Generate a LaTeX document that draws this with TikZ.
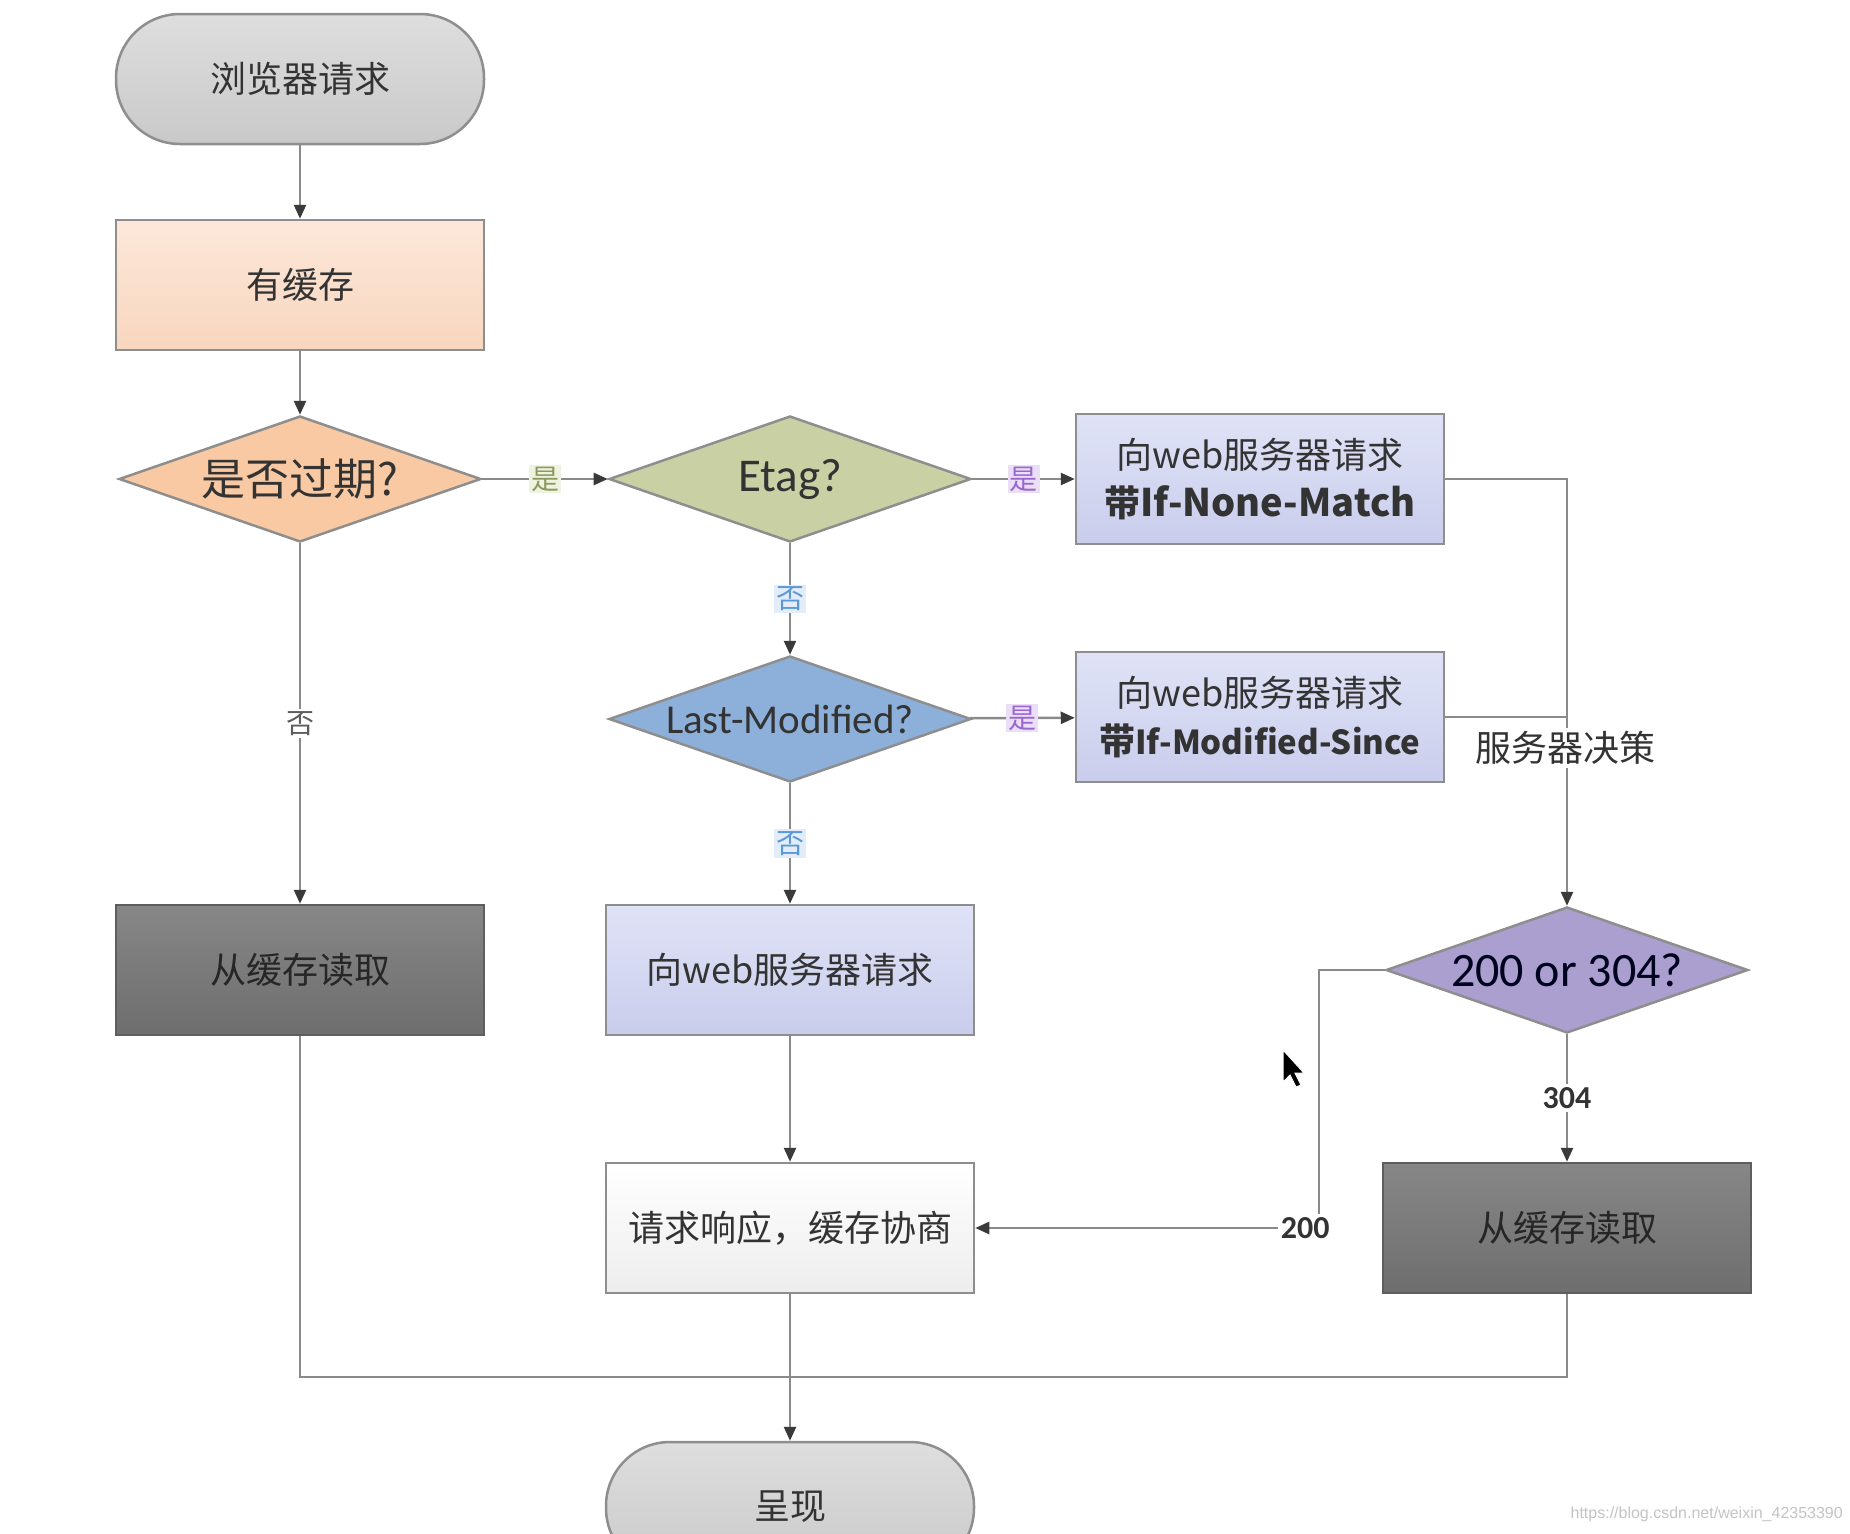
\documentclass[tikz,border=0pt]{standalone}
\usepackage{fontspec}
\setmainfont{Carlito}
\newfontfamily\cjk{Noto Sans CJK SC}
\newfontfamily\wmfont{Liberation Sans}
\usetikzlibrary{shapes.geometric,arrows.meta}
\definecolor{bordergray}{HTML}{8E8E8E}
\definecolor{linegray}{HTML}{8A8A8A}
\definecolor{arrowdark}{HTML}{3A3A3A}
\definecolor{textdark}{HTML}{333333}
\definecolor{termtop}{HTML}{DEDEDE}
\definecolor{termbot}{HTML}{C9C9C9}
\definecolor{peachtop}{HTML}{FCE8DA}
\definecolor{peachbot}{HTML}{F8D6BE}
\definecolor{orangefill}{HTML}{F8C9A2}
\definecolor{etagfill}{HTML}{C9D1A4}
\definecolor{lmfill}{HTML}{8DB0DA}
\definecolor{codefill}{HTML}{AA9FCF}
\definecolor{lavtop}{HTML}{E0E3F6}
\definecolor{lavbot}{HTML}{C9CDEC}
\definecolor{darktop}{HTML}{878787}
\definecolor{darkbot}{HTML}{6E6E6E}
\definecolor{darkborder}{HTML}{5E5E5E}
\definecolor{whitebot}{HTML}{EDEDED}
\definecolor{yesgreen}{HTML}{8C9A5E}
\definecolor{yesgreenbg}{HTML}{EEF2E0}
\definecolor{yespurple}{HTML}{9A66D0}
\definecolor{yespurplebg}{HTML}{EADFF6}
\definecolor{noblue}{HTML}{5A98D8}
\definecolor{nobluebg}{HTML}{E2EDF9}
\definecolor{wmgray}{HTML}{C4C4C4}
\newcommand\zh[1]{{\cjk #1}}
\tikzset{
  base/.style={draw=bordergray, line width=2.5pt, inner sep=0pt, align=center, text=textdark,
    font=\cjk\fontsize{36}{44}\selectfont},
  term/.style={base, rectangle, rounded corners=64pt, minimum width=368pt, minimum height=130pt,
    top color=termtop, bottom color=termbot},
  procbox/.style={base, rectangle, minimum width=368pt, minimum height=130pt},
  peachbox/.style={procbox, top color=peachtop, bottom color=peachbot},
  lavbox/.style={procbox, top color=lavtop, bottom color=lavbot},
  darkbox/.style={procbox, draw=darkborder, top color=darktop, bottom color=darkbot, text=black!85},
  whitebox/.style={procbox, top color=white, bottom color=whitebot},
  dia/.style={base, diamond, aspect=2.87, minimum width=362pt, minimum height=126pt},
  conn/.style={draw=linegray, line width=2.5pt},
  arr/.style={conn, -{Triangle[length=14pt,width=12pt,color=arrowdark]}},
  yeslbl/.style={font=\cjk\fontsize{28}{30}\selectfont, inner sep=2pt},
  yesg/.style={yeslbl, text=yesgreen, fill=yesgreenbg},
  yesp/.style={yeslbl, text=yespurple, fill=yespurplebg},
  nob/.style={yeslbl, text=noblue, fill=nobluebg},
  nog/.style={yeslbl, text=textdark!80, fill=white},
  codelbl/.style={font=\fontsize{32}{34}\selectfont\bfseries, text=textdark, fill=white, inner sep=3pt},
}
\begin{document}
\begin{tikzpicture}[x=1pt,y=-1pt]
\useasboundingbox (0,0) rectangle (1850,1534);
\fill[white] (0,0) rectangle (1850,1534);
\clip (0,0) rectangle (1850,1534);

% nodes
\node[term] (start) at (300,79) {浏览器请求};
\node[peachbox] (cache) at (300,285) {有缓存};
\node[dia, fill=orangefill, font=\cjk\fontsize{44}{48}\selectfont] (expired) at (300,479) {是否过期?};
\node[dia, fill=etagfill, font=\fontsize{47}{50}\selectfont] (etag) at (790,479) {Etag?};
\node[lavbox] (inm) at (1260,479) {\zh{向}web\zh{服务器请求}\\[4pt]{\bfseries\zh{带}\fontsize{38}{44}\selectfont If-None-Match}};
\node[dia, fill=lmfill, font=\fontsize{41}{46}\selectfont, inner sep=-6pt] (lm) at (790,719) {Last-Modified?};
\node[lavbox] (ims) at (1260,717) {\zh{向}web\zh{服务器请求}\\[4pt]{\bfseries\zh{带}\fontsize{33}{40}\selectfont If-Modified-Since}};
\node[darkbox] (readl) at (300,970) {从缓存读取};
\node[lavbox] (web) at (790,970) {\zh{向}web\zh{服务器请求}};
\node[dia, fill=codefill, font=\fontsize{48}{50}\selectfont, text=black!80!blue!60!black, inner sep=-4pt] (code) at (1567,970) {200 or 304?};
\node[whitebox] (resp) at (790,1228) {请求响应，缓存协商};
\node[darkbox] (readr) at (1567,1228) {从缓存读取};
\node[term] (show) at (790,1507) {呈现};

\coordinate (c200) at (1319,970);
\coordinate (cm) at (790,1377);

% connectors
\draw[arr] (start) -- (cache);
\draw[arr] (cache) -- (expired);
\draw[arr] (expired) -- node[yesg]{是} (etag);
\draw[arr] (etag) -- node[yesp]{是} (inm);
\draw[arr] (etag) -- node[nob]{否} (lm);
\draw[arr] (lm) -- node[yesp]{是} (ims);
\draw[arr] (lm) -- node[nob]{否} (web);
\draw[arr] (expired) -- node[nog]{否} (readl);
\draw[arr] (inm.east) -| (code.north);
\draw[conn] (ims.east) -- (ims.east -| code.north);
\node[font=\cjk\fontsize{36}{40}\selectfont, text=textdark, fill=white, inner sep=3pt] (srv) at (1565,748) {服务器决策};
\draw[arr] (web) -- (resp);
\draw[arr] (code) -- node[codelbl]{304} (readr);
\draw[arr] (code.west) -- (c200) |- node[codelbl, pos=0.52]{200} (resp.east);
\draw[conn] (readl.south) |- (cm);
\draw[conn] (readr.south) |- (cm);
\draw[arr] (resp) -- (show);

% mouse cursor
\filldraw[fill=black, draw=white, line width=1pt] (1283,1050) -- (1283,1082) -- (1290,1075) -- (1296,1087) -- (1301,1085) -- (1295,1073) -- (1304,1073) -- cycle;

% watermark
\node[anchor=east, font=\wmfont\fontsize{16}{18}\selectfont, text=wmgray, inner sep=0pt] (wm) at (1843,1514) {https://blog.csdn.net/weixin\_42353390};
\end{tikzpicture}
\end{document}
